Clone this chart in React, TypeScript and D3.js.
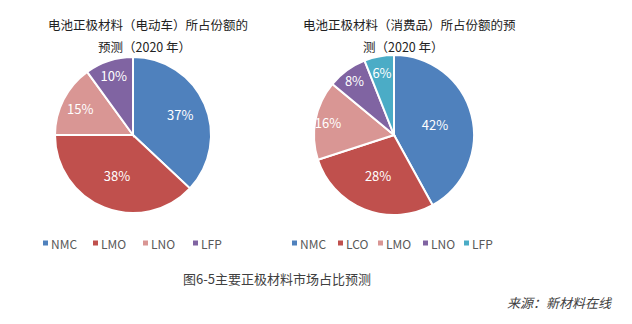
import React from "react";
import * as d3 from "d3";

const evCategories = ["NMC", "LMO", "LNO", "LFP"];
const evValues = [37, 38, 15, 10];
const evColors = ["#4F81BD", "#C0504D", "#D99694", "#8064A2"];

const ceCategories = ["NMC", "LCO", "LMO", "LNO", "LFP"];
const ceValues = [42, 28, 16, 8, 6];
const ceColors = ["#4F81BD", "#C0504D", "#D99694", "#8064A2", "#4BACC6"];

const evTitle = ["电池正极材料（电动车）所占份额的", "预测（2020 年）"];
const ceTitle = ["电池正极材料（消费品）所占份额的预", "测（2020 年）"];
const caption = "图6-5主要正极材料市场占比预测";
const source = "来源：新材料在线";

const FONT = "'Noto Sans CJK SC', 'Noto Sans', sans-serif";

type PieProps = {
  cats: string[];
  vals: number[];
  colors: string[];
  cx: number;
  cy: number;
  r: number;
  labelFrac: number[];
  title: string[];
  titleX: number[];
  legendX: number;
  legendGap: number[];
};

function Pie({ cats, vals, colors, cx, cy, r, labelFrac, title, titleX, legendX, legendGap }: PieProps) {
  const pie = d3.pie<number>().sort(null).value((d) => d)(vals);
  const arc = d3.arc<d3.PieArcDatum<number>>().innerRadius(0).outerRadius(r);
  const total = d3.sum(vals);
  let lx = legendX;
  return (
    <g>
      {title.map((t, i) => (
        <text key={i} x={titleX[i]} y={30 + i * 22} fontSize={12.5} fill="#222" fontFamily={FONT}>
          {t}
        </text>
      ))}
      <g transform={`translate(${cx},${cy})`}>
        {pie.map((p, i) => (
          <path key={i} d={arc(p) || ""} fill={colors[i]} stroke="#fff" strokeWidth={2} />
        ))}
        {pie.map((p, i) => {
          const a = (p.startAngle + p.endAngle) / 2;
          const rr = r * labelFrac[i];
          return (
            <text
              key={"l" + i}
              x={Math.sin(a) * rr}
              y={-Math.cos(a) * rr}
              textAnchor="middle"
              dominantBaseline="central"
              fontSize={13}
              fill="#fff"
              fontFamily={FONT}
            >
              {Math.round((vals[i] / total) * 100) + "%"}
            </text>
          );
        })}
      </g>
      {cats.map((c, i) => {
        const x = lx;
        lx += legendGap[i];
        return (
          <g key={c} transform={`translate(${x},243)`}>
            <rect x={0} y={-2.5} width={5} height={5} fill={colors[i]} />
            <text x={8} y={0} dominantBaseline="central" fontSize={12} fill="#595959" fontFamily={FONT}>
              {c}
            </text>
          </g>
        );
      })}
    </g>
  );
}

export default function App() {
  return (
    <svg width={632} height={324} style={{ position: "absolute", left: 0, top: 0, background: "#fff" }}>
      <rect width={632} height={324} fill="#fff" />
      <Pie
        cats={evCategories}
        vals={evValues}
        colors={evColors}
        cx={133}
        cy={135}
        r={78}
        labelFrac={[0.66, 0.56, 0.76, 0.8]}
        title={evTitle}
        titleX={[48, 98]}
        legendX={43}
        legendGap={[50, 50, 50, 50]}
      />
      <Pie
        cats={ceCategories}
        vals={ceValues}
        colors={ceColors}
        cx={394}
        cy={135}
        r={80}
        labelFrac={[0.53, 0.54, 0.84, 0.84, 0.8]}
        title={ceTitle}
        titleX={[303, 363]}
        legendX={292}
        legendGap={[46, 40, 45, 41, 40]}
      />
      <text x={277} y={284} textAnchor="middle" fontSize={13} fill="#404040" fontFamily={FONT}>
        {caption}
      </text>
      <text x={611} y={308} textAnchor="end" fontSize={13} fontStyle="italic" fill="#404040" fontFamily={FONT}>
        {source}
      </text>
    </svg>
  );
}
